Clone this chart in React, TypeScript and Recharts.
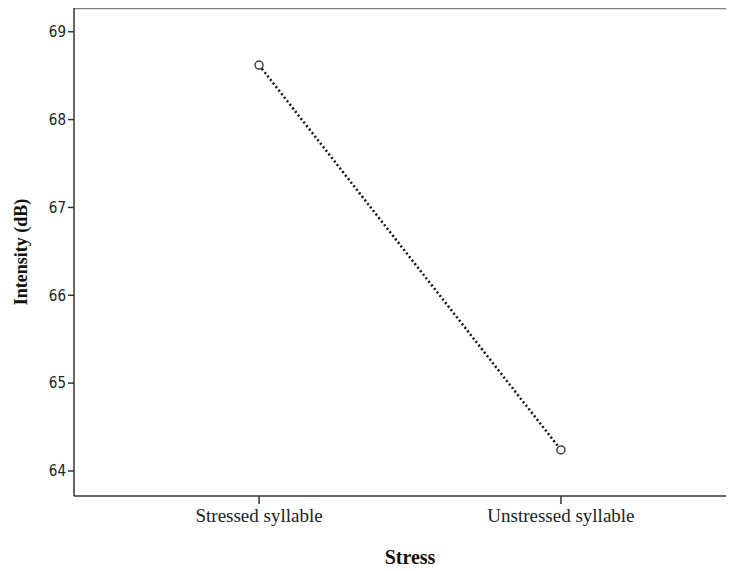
import React from 'react';
import { LineChart, Line, XAxis, YAxis, ReferenceLine } from 'recharts';

const categories = ['Stressed syllable', 'Unstressed syllable'];
const intensity = [68.62, 64.24];
const yTicks = [64, 65, 66, 67, 68, 69];
const yDomain = [63.715, 69.27];

const data = categories.map((name, i) => ({ pos: i + 1, name, value: intensity[i] }));

const serif = '"Liberation Serif", "Times New Roman", serif';
const narrow = '"Liberation Sans Narrow", "DejaVu Sans Condensed", "Liberation Sans", sans-serif';

export default function App() {
  return (
    <div style={{ position: 'relative', marginTop: -8, marginLeft: -8, width: 734, height: 571, overflow: 'hidden', background: '#fff' }}>
      <LineChart width={746} height={571} data={data} margin={{ top: 8, right: 0, left: 0, bottom: 0 }}>
        <XAxis
          dataKey="pos"
          type="number"
          domain={[0.387, 2.613]}
          ticks={[1, 2]}
          tickFormatter={(v: number) => categories[v - 1]}
          height={75}
          tickSize={8}
          tickMargin={5}
          axisLine={{ stroke: '#333', strokeWidth: 1.5 }}
          tickLine={{ stroke: '#333', strokeWidth: 1.5 }}
          tick={{ fill: '#222', fontSize: 19, fontFamily: serif }}
          label={{ value: 'Stress', position: 'insideBottom', offset: 7, fill: '#111', fontSize: 20, fontWeight: 'bold', fontFamily: serif }}
        />
        <YAxis
          domain={yDomain}
          ticks={yTicks}
          width={74}
          tickSize={6}
          tickMargin={2}
          axisLine={{ stroke: '#333', strokeWidth: 1.5 }}
          tickLine={{ stroke: '#333', strokeWidth: 1.5 }}
          tick={{ fill: '#222', fontSize: 15, fontFamily: narrow }}
          label={{ value: 'Intensity (dB)', angle: -90, position: 'insideLeft', offset: 21, style: { textAnchor: 'middle' }, fill: '#111', fontSize: 18, fontWeight: 'bold', fontFamily: serif }}
        />
        {/* top edge of the plot frame */}
        <ReferenceLine y={yDomain[1]} stroke="#808080" strokeWidth={2.5} ifOverflow="visible" />
        <Line
          dataKey="value"
          type="linear"
          stroke="#111"
          strokeWidth={2.5}
          strokeDasharray="2 2.5"
          dot={{ r: 4, fill: '#fff', stroke: '#444', strokeWidth: 1.5, strokeDasharray: '' }}
          isAnimationActive={false}
        />
      </LineChart>
    </div>
  );
}
